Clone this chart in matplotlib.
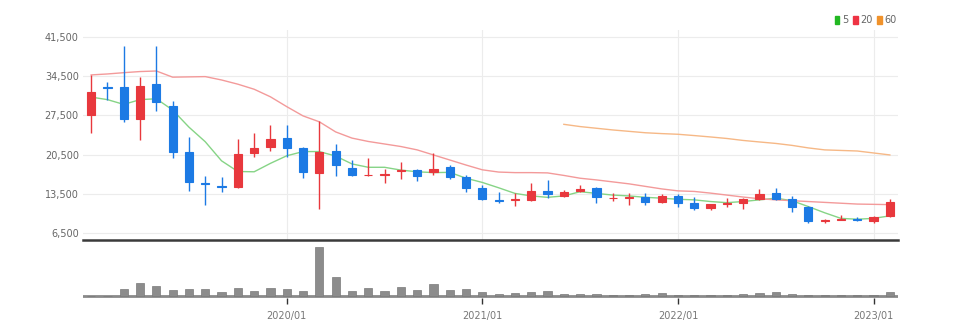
import matplotlib
matplotlib.use("Agg")
import matplotlib.pyplot as plt
from matplotlib.patches import Patch
from matplotlib import font_manager
import numpy as np

# monthly candles, 2019/01 .. 2023/02
months = [f"{y}/{m:02d}" for y in range(2019, 2024) for m in range(1, 13)][:50]

opens = [27600, 32500, 32550, 26800, 33150, 29200, 21000, 15450, 14900, 14800,
         20750, 21800, 23500, 21600, 17300, 21200, 18050, 16800, 16950, 17500,
         17850, 17450, 18250, 16600, 14600, 12400, 12450, 12450, 14050, 13150,
         14100, 14500, 12700, 12750, 12900, 12150, 13200, 11950, 11050, 11700,
         11850, 12550, 13700, 12550, 11250, 8650, 8950, 9050, 8750, 9550]
highs = [34700, 33500, 39900, 34300, 39900, 30100, 23700, 16750, 16600, 23300,
         24300, 25800, 25800, 21900, 26500, 22400, 19600, 19850, 17900, 19150,
         17900, 20850, 18700, 16900, 15100, 13900, 13600, 15400, 15900, 14200,
         15100, 14700, 13600, 13700, 13600, 13500, 13450, 12900, 11800, 12750,
         12750, 14300, 14500, 13150, 11350, 9000, 9750, 9350, 9600, 12550]
lows = [24400, 30250, 26300, 23100, 28200, 19850, 14000, 11550, 13900, 14600,
        20050, 21200, 20150, 16300, 10800, 16700, 16700, 16650, 15500, 16100,
        15800, 16900, 16200, 13900, 12500, 11950, 11350, 12300, 12700, 12900,
        13900, 11950, 12300, 11550, 11550, 11950, 11250, 10650, 10650, 11250,
        10800, 12500, 12450, 10350, 8400, 8300, 8950, 8700, 8300, 9350]
closes = [31700, 32300, 26800, 32800, 29950, 20900, 15700, 15250, 14700, 20600,
          21600, 23350, 21600, 17400, 21050, 18700, 16850, 16950, 17050, 17700,
          16750, 17900, 16450, 14500, 12600, 12250, 12600, 14050, 13500, 13900,
          14450, 12900, 12850, 12900, 12150, 13200, 11850, 10950, 11700, 11850,
          12550, 13450, 12550, 11150, 8700, 8800, 9050, 8950, 9450, 12150]

ma5 = [30750, 30300, 29450, 30300, 30450, 28450, 25400, 22800, 19400, 17500,
       17450, 18950, 20300, 21050, 21050, 20250, 18850, 18250, 18250, 17750,
       17450, 17300, 17350, 16300, 15550, 14600, 13600, 13150, 12900, 13150,
       13900, 13600, 13300, 13150, 12900, 12750, 12550, 12450, 12150, 11950,
       12150, 12450, 12750, 12300, 11250, 10150, 9150, 9000, 9150, 9600]
ma20 = [34700, 34870, 35100, 35300, 35400, 34300, 34350, 34400, 33800, 33050,
        32150, 30800, 29050, 27400, 26350, 24550, 23450, 22850, 22400, 21950,
        21350, 20450, 19550, 18650, 17800, 17400, 17300, 17300, 17250, 16800,
        16300, 16000, 15650, 15300, 14850, 14400, 14050, 13950, 13650, 13300,
        12950, 12650, 12450, 12300, 12150, 12000, 11850, 11700, 11650, 11600]
ma60 = [None] * 29 + [25900, 25500, 25200, 24900, 24650, 24400, 24250, 24130,
                      23900, 23650, 23380, 23030, 22760, 22500, 22150, 21700,
                      21350, 21250, 21150, 20800, 20450]

volume = [0, 0, 700, 1270, 1000, 630, 670, 700, 370, 800,
          500, 800, 670, 500, 4930, 1870, 500, 800, 530, 870,
          570, 1200, 570, 700, 380, 250, 350, 400, 500, 200,
          250, 200, 120, 120, 200, 270, 100, 100, 100, 100,
          250, 350, 400, 200, 100, 100, 100, 100, 100, 380]

yticks = [6500, 13500, 20500, 27500, 34500, 41500]
xtick_months = ["2020/01", "2021/01", "2022/01", "2023/01"]

RED = "#e8383d"
BLUE = "#1c7ae4"
C_MA5 = "#86d486"
C_MA20 = "#f39a9a"
C_MA60 = "#f6b886"

names = {f.name for f in font_manager.fontManager.ttflist}
fam = ["Liberation Sans Narrow"] if "Liberation Sans Narrow" in names else []
plt.rcParams["font.family"] = fam + ["DejaVu Sans"]

W, H = 954, 333
fig = plt.figure(figsize=(W / 100, H / 100), dpi=100)

x0, x1 = 83, 898
ax = fig.add_axes([x0 / W, (H - 240) / H, (x1 - x0) / W, 210 / H])
axv = fig.add_axes([x0 / W, (H - 297.5) / H, (x1 - x0) / W, 53.5 / H], sharex=ax)

x = np.arange(len(months))
o = np.array(opens)
c = np.array(closes)
colors = [RED if cc >= oo else BLUE for oo, cc in zip(o, c)]

ax.vlines(x, lows, highs, colors=colors, lw=1.0, zorder=3)
ax.bar(x, np.abs(c - o), bottom=np.minimum(o, c), width=0.5, color=colors,
       edgecolor=colors, lw=0.8, zorder=4)

ax.plot(x, ma5, color=C_MA5, lw=1.0, zorder=2)
ax.plot(x, ma20, color=C_MA20, lw=1.0, zorder=2)
m60 = np.array([np.nan if v is None else v for v in ma60], dtype=float)
ax.plot(x, m60, color=C_MA60, lw=1.0, zorder=2)

ax.set_xlim(-0.5, len(months) - 0.5)
ax.set_ylim(5300, 42700)
ax.set_yticks(yticks)
ax.set_yticklabels([f"{v:,}" for v in yticks])
tick_pos = [months.index(m) for m in xtick_months]
ax.set_xticks(tick_pos)
ax.grid(True, color="#ececec", lw=0.8, zorder=0)
ax.tick_params(axis="y", length=0, pad=3, labelsize=7, labelcolor="#666666")
ax.tick_params(axis="x", length=0, labelbottom=False)
for s in ["top", "right", "left"]:
    ax.spines[s].set_visible(False)
ax.spines["bottom"].set_color("#3a3a3a")
ax.spines["bottom"].set_linewidth(1.8)

axv.bar(x, volume, width=0.5, color="#8c8c8c", edgecolor="#7a7a7a", lw=0.5, zorder=3)
axv.axhline(0, color="#8a8a8a", lw=2.0, zorder=2)
axv.set_ylim(-150, 5200)
axv.set_yticks([])
axv.set_xticks(tick_pos)
axv.set_xticklabels(xtick_months)
axv.tick_params(axis="x", length=4, width=1, color="#333333", pad=6,
                labelsize=7, labelcolor="#777777")
for s in axv.spines.values():
    s.set_visible(False)

handles = [Patch(color="#22b822"), Patch(color="#ee3344"), Patch(color="#f0922b")]
fig.legend(handles, ["5", "20", "60"], loc="upper right",
           bbox_to_anchor=(897 / W, 1 - 15 / H), ncol=3, fontsize=7,
           handlelength=0.5, handleheight=0.9, handletextpad=0.25,
           columnspacing=0.5, frameon=False, borderaxespad=0, borderpad=0,
           labelcolor="#666666")

fig.savefig("out.png", dpi=100)
